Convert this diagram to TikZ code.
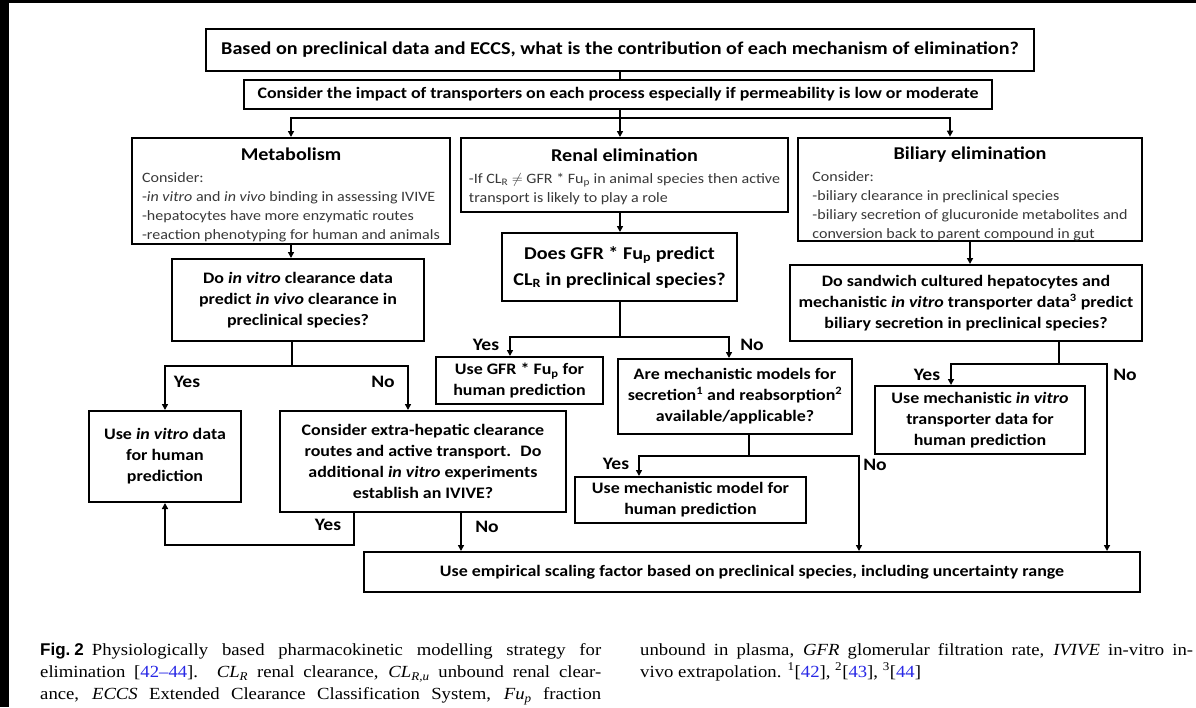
\documentclass[tikz,border=0pt]{standalone}
\usepackage{fontspec}
\setmainfont{Carlito}[FakeStretch=1.12]
\newfontfamily\captionserif{Liberation Serif}[FakeStretch=1.1, Ligatures=TeX]
\newfontfamily\captionsans{Liberation Sans}
\usepackage{xcolor}
\usepackage{tikz}
\usetikzlibrary{arrows.meta, positioning, calc}

\newcommand{\titlefont}{\fontsize{18}{21}\selectfont\bfseries}
\newcommand{\impactfont}{\fontsize{16}{20}\selectfont\bfseries}
\newcommand{\hdrfont}{\fontsize{18}{21}\selectfont\bfseries\color{black}}
\newcommand{\bodyfont}{\fontsize{14.3}{19}\selectfont}
\newcommand{\boxfont}{\fontsize{16}{21}\selectfont\bfseries}
\newcommand{\bigqfont}{\fontsize{18}{26}\selectfont\bfseries}
\newcommand{\ynfont}{\fontsize{17.5}{20}\selectfont\bfseries}
\newcommand{\capsize}{\fontsize{17}{22}\selectfont}
\newcommand{\hdrstrut}{\rule{0pt}{22pt}}
\definecolor{citeblue}{RGB}{40,40,230}

\begin{document}
\begin{tikzpicture}[
    x=1pt, y=-1pt,
    box/.style={draw, line width=2pt, inner sep=2pt, align=center, font=\boxfont},
    infobox/.style={box, inner sep=0pt, font=\bodyfont, text=black!78},
    line/.style={line width=1.8pt},
    arr/.style={line width=1.8pt, -{Triangle[length=6pt,width=6pt]}},
    yn/.style={font=\ynfont, inner sep=0pt}
]
\useasboundingbox (0,0) rectangle (1196,707);
\fill[white] (0,0) rectangle (1196,707);
\fill[black] (0,0) rectangle (1196,3);
\fill[black] (0,0) rectangle (9,707);

\node[box, minimum width=828, minimum height=42, font=\titlefont] (title) at (620,50)
  {Based on preclinical data and ECCS, what is the contribution of each mechanism of elimination?};
\node[box, minimum width=748, minimum height=29, font=\impactfont] (impact) at (618,94.5)
  {Consider the impact of transporters on each process especially if permeability is low or moderate};

\node[infobox, minimum width=318, minimum height=106] (metab) at (291,191)
  {\begin{tabular}{@{}l@{}}\multicolumn{1}{@{}c@{}}{\hdrstrut\hdrfont Metabolism}\\[3pt]
   Consider:\\
   -\textit{in vitro} and \textit{in vivo} binding in assessing IVIVE\\
   -hepatocytes have more enzymatic routes\\
   -reaction phenotyping for human and animals\\[-1pt]\end{tabular}};
\node[infobox, minimum width=327, minimum height=74] (renal) at (624.5,175)
  {\begin{tabular}{@{}l@{}}\multicolumn{1}{@{}c@{}}{\rule{0pt}{20pt}\hdrfont Renal elimination}\\[3pt]
   -If CL\textsubscript{R} $\neq$ GFR * Fu\textsubscript{p} in animal species then active\\
   transport is likely to play a role\end{tabular}};
\node[infobox, minimum width=344, minimum height=103] (biliary) at (970,189.5)
  {\begin{tabular}{@{}l@{}}\multicolumn{1}{@{}c@{}}{\hdrstrut\hdrfont Biliary elimination}\\[3pt]
   Consider:\\
   -biliary clearance in preclinical species\\
   -biliary secretion of glucuronide metabolites and\\
   conversion back to parent compound in gut\\[-3pt]\end{tabular}};

\node[box, minimum width=252, minimum height=82] (metabq) at (298,300)
  {Do \textit{in vitro} clearance data\\ predict \textit{in vivo} clearance in\\ preclinical species?};
\node[box, minimum width=235, minimum height=68, font=\bigqfont] (renalq) at (619.5,267)
  {Does GFR * Fu\textsubscript{p} predict\\ CL\textsubscript{R} in preclinical species?};
\node[box, minimum width=352, minimum height=76] (biliaryq) at (966,303)
  {Do sandwich cultured hepatocytes and\\ mechanistic \textit{in vitro} transporter data\textsuperscript{3} predict\\ biliary secretion in preclinical species?};

\node[box, minimum width=152, minimum height=91] (invitro) at (165,456.5)
  {Use \textit{in vitro} data\\ for human\\ prediction};
\node[box, minimum width=286, minimum height=101] (extrahep) at (423,461.5)
  {Consider extra-hepatic clearance\\ routes and active transport.~ Do\\ additional \textit{in vitro} experiments\\ establish an IVIVE?};
\node[box, minimum width=167, minimum height=47] (gfruse) at (519.5,380.5)
  {Use GFR * Fu\textsubscript{p} for\\ human prediction};
\node[box, minimum width=234, minimum height=75] (mechq) at (735,396.5)
  {Are mechanistic models for\\ secretion\textsuperscript{1} and reabsorption\textsuperscript{2}\\ available/applicable?};
\node[box, minimum width=231, minimum height=46] (mechuse) at (690.5,500)
  {Use mechanistic model for\\ human prediction};
\node[box, minimum width=210, minimum height=68] (transuse) at (980,420)
  {Use mechanistic \textit{in vitro}\\ transporter data for\\ human prediction};
\node[box, minimum width=776, minimum height=40] (empirical) at (752,572)
  {Use empirical scaling factor based on preclinical species, including uncertainty range};

\coordinate (split1) at (620,118);
\coordinate (bilin) at (950,118);
\draw[line] (title.south) -- (title.south |- impact.north);
\draw[line] (split1 |- impact.south) -- (split1);
\draw[arr] (split1) -| (metab.north);
\draw[arr] (split1) -- (split1 |- renal.north);
\draw[arr] (split1) -- (bilin) -- (bilin |- biliary.north);

\draw[arr] (metab.south) -- (metab.south |- metabq.north);
\draw[arr] (split1 |- renal.south) -- (split1 |- renalq.north);
\draw[arr] (biliary.south) -- (biliary.south |- biliaryq.north);

\coordinate (metabsplit) at (292,366);
\coordinate (metabno) at (408,366);
\draw[line] (metabsplit |- metabq.south) -- (metabsplit);
\draw[arr] (metabsplit) -| (invitro.north);
\draw[arr] (metabsplit) -- (metabno) -- (metabno |- extrahep.north);

\coordinate (exyes) at (354,545);
\coordinate (exno) at (461,545);
\draw[arr] (exyes |- extrahep.south) -- (exyes) -| (invitro.south);
\draw[arr] (exno |- extrahep.south) -- (exno |- empirical.north);

\coordinate (renalsplit) at (620,337);
\coordinate (renalyes) at (510,337);
\coordinate (renalno) at (729,337);
\draw[line] (split1 |- renalq.south) -- (renalsplit);
\draw[arr] (renalsplit) -- (renalyes) -- (renalyes |- gfruse.north);
\draw[arr] (renalsplit) -- (renalno) -- (renalno |- mechq.north);

\coordinate (mechsplit) at (749,456);
\coordinate (mechyes) at (639,456);
\coordinate (mechno) at (859,456);
\draw[line] (mechsplit |- mechq.south) -- (mechsplit);
\draw[arr] (mechsplit) -- (mechyes) -- (mechyes |- mechuse.north);
\draw[arr] (mechsplit) -- (mechno) -- (mechno |- empirical.north);

\coordinate (bilsplit) at (1059,364);
\coordinate (bilyes) at (951,364);
\coordinate (bilno) at (1107,364);
\draw[line] (bilsplit |- biliaryq.south) -- (bilsplit);
\draw[arr] (bilsplit) -- (bilyes) -- (bilyes |- transuse.north);
\draw[arr] (bilsplit) -- (bilno) -- (bilno |- empirical.north);

\node[yn] (metabyeslbl) at (187,382) {Yes};
\node[yn] (metabnolbl) at (383,382) {No};
\node[yn] (exyeslbl) at (328,525) {Yes};
\node[yn] (exnolbl) at (487,527) {No};
\node[yn] (renalyeslbl) at (486,345) {Yes};
\node[yn] (renalnolbl) at (752,345) {No};
\node[yn] (mechyeslbl) at (616,464) {Yes};
\node[yn] (mechnolbl) at (875,465) {No};
\node[yn] (bilyeslbl) at (927,375) {Yes};
\node[yn] (bilnolbl) at (1125,375) {No};

\node[anchor=north west, text width=561, align=justify, inner sep=0pt, font=\captionserif\capsize] (capleft) at (40,643)
  {{\captionsans\bfseries Fig.\kern4pt 2}\kern8pt Physiologically based pharmacokinetic modelling strategy for\linebreak
   elimination [\textcolor{citeblue}{42–44}]. \textit{CL}\textsubscript{\textit{R}} renal clearance, \textit{CL}\textsubscript{\textit{R,u}} unbound renal clear-\linebreak
   ance, \textit{ECCS} Extended Clearance Classification System, \textit{Fu}\textsubscript{\textit{p}} fraction{\parfillskip=0pt\par}};
\node[anchor=north west, text width=553, align=justify, inner sep=0pt, font=\captionserif\capsize] (capright) at (640,643)
  {unbound in plasma, \textit{GFR} glomerular filtration rate, \textit{IVIVE} in-vitro in-\linebreak
   vivo extrapolation. \textsuperscript{1}[\textcolor{citeblue}{42}], \textsuperscript{2}[\textcolor{citeblue}{43}], \textsuperscript{3}[\textcolor{citeblue}{44}]};
\end{tikzpicture}
\end{document}
